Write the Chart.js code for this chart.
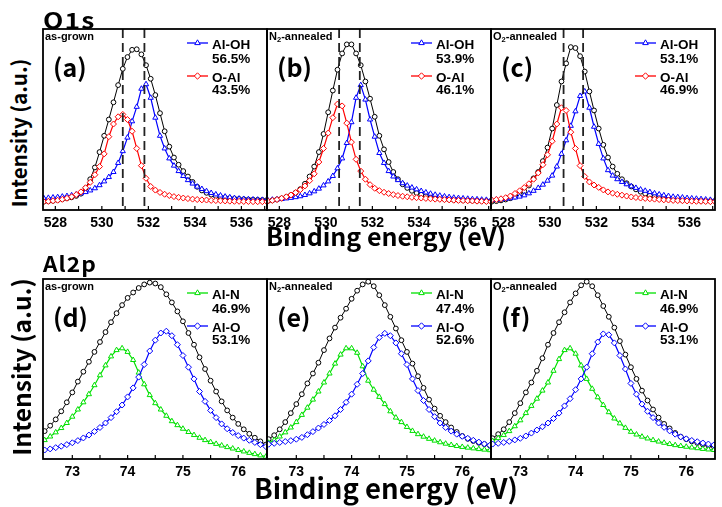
<!DOCTYPE html>
<html>
<head>
<meta charset="utf-8">
<script src="https://cdn.jsdelivr.net/npm/chart.js@4.4.1/dist/chart.umd.min.js"></script>
<style>
  html, body { margin: 0; padding: 0; background: #fff; }
  #fig { position: relative; width: 722px; height: 507px; overflow: hidden; }
  .wrap { position: absolute; }
  .big { position: absolute; font-family: "Noto Sans CJK KR", "Open Sans", sans-serif; font-weight: 700; color: #000; white-space: nowrap; line-height: 1; }
  .small { position: absolute; font-family: "Liberation Sans", Arial, sans-serif; font-weight: 700; font-size: 11px; line-height: 1; white-space: nowrap; color: #000; }
  .small sub { font-size: 7.5px; vertical-align: -2px; line-height: 0; }
</style>
</head>
<body>
<div id="fig"></div>
<script>
// ---- O1s (top row), binding energy in eV ----
const o1sEnergy = [527.5,527.7,527.9,528.1,528.3,528.5,528.7,528.9,529.1,529.3,529.5,529.7,529.9,530.1,530.3,530.5,530.7,530.9,531.1,531.3,531.5,531.7,531.9,532.1,532.3,532.5,532.7,532.9,533.1,533.3,533.5,533.7,533.9,534.1,534.3,534.5,534.7,534.9,535.1,535.3,535.5,535.7,535.9,536.1,536.3,536.5,536.7,536.9,537.1];
const o1sTicks = [528, 529, 530, 531, 532, 533, 534, 535, 536, 537];
const o1sTickLabels = [528, 530, 532, 534, 536];

const o1sTotalA = [4.6,4.8,5.1,5.5,6.0,6.5,7.0,7.8,9.0,12,17,23.5,32,41,50,59.5,69,78,84.5,88.5,88.8,86,80,72.5,63.5,53.5,43.5,35,29,25,21.5,18.5,15.5,12.8,10.8,9.5,8.5,7.7,7.2,6.8,6.5,6.3,6.1,5.9,5.8,5.7,5.6,5.5,5.5];
const alOhA = [6.6,6.7,6.9,7.1,7.4,7.7,8.1,8.6,9.2,9.9,10.8,12,13.7,15.8,18.2,21,26,32.5,40,49,57,67,69.5,62,51,41,34,28.5,24.5,21.5,18.8,16.5,14.6,12.9,11.6,10.4,9.4,8.6,8,7.4,7,6.6,6.3,6.1,5.9,5.8,5.7,5.6,5.5];
const oAlA = [4.6,4.8,5.1,5.4,5.9,6.5,7.3,8.5,10,12.3,15.3,19.5,24,31,40.5,47.5,51.5,52.8,50,43.5,34,24.5,17.5,13,11,9.7,8.7,8,7.4,7,6.6,6.3,6,5.8,5.6,5.5,5.3,5.2,5.1,5,4.9,4.8,4.8,4.7,4.7,4.6,4.6,4.6,4.5];

const o1sTotalB = [4.9,5.3,5.8,6.4,7.2,8.2,9.6,11.5,14.5,18.5,24,32,42,54,66,77.5,86.5,91.5,91.5,86.5,80,71,61.5,51.5,41,33.5,26.5,21,17,14.2,12.2,10.6,9.4,8.4,7.6,7,6.6,6.3,6.0,5.8,5.6,5.5,5.4,5.3,5.2,5.1,5.1,5.0,5.0];
const alOhB = [5.5,5.7,5.9,6.1,6.4,6.7,7.1,7.6,8.3,9.2,10.3,11.8,13.6,15.8,18.8,23,28.5,37,48.5,62,69,61,50,40.5,31.5,26,21.5,18.5,16.5,14.8,13.5,12.4,11.4,10.5,9.7,9.0,8.4,7.9,7.5,7.1,6.8,6.6,6.4,6.2,6.0,5.9,5.7,5.6,5.5];
const oAlB = [5,5.3,5.8,6.5,7.3,8.3,9.6,11.2,13.3,16.2,20,26.5,34,42.5,51,58.5,57.5,48,37.5,28,21.5,17,14,12,10.7,9.8,9.1,8.5,8,7.6,7.3,7,6.8,6.6,6.4,6.2,6,5.9,5.7,5.6,5.4,5.3,5.2,5.1,5,4.9,4.8,4.7,4.6];

const o1sTotalC = [4.6,4.9,5.3,5.8,6.5,7.4,8.6,10.3,13.5,17.5,21,27,34.5,45,58,71,81,90,89.5,85,76.5,65.5,55,45,36,29,24,20,17,14.8,13,11.4,10.1,9,8,7.3,6.8,6.4,6.1,5.9,5.7,5.5,5.4,5.3,5.2,5.1,5.1,5.0,5.0];
const alOhC = [5.5,5.7,5.9,6.2,6.5,6.9,7.4,8.1,9.2,10.6,12.2,14,16.2,19,24,31,38.5,46.5,54.5,63,65.5,56.5,46,36.5,28.5,22,19,17,15.5,14.2,13.1,12.2,11.3,10.6,9.9,9.2,8.6,8.1,7.7,7.3,7.1,6.9,6.6,6.4,6.2,6.0,5.8,5.6,5.5];
const oAlC = [5.5,5.8,6.2,6.8,7.7,9.1,10.6,12.4,14.5,17,20.5,25,30.5,38,47.5,56.5,55,43,34,24.5,18.5,15.5,13.8,12.5,11.1,10,9.3,8.7,8.2,7.7,7.2,6.9,6.6,6.4,6.2,6,5.8,5.6,5.5,5.3,5.2,5.1,5,4.9,4.8,4.8,4.7,4.6,4.6];

// dashed lines at the two fitted O1s peak positions
const o1sPeakLines = [[530.9, 531.83], [530.57, 531.46], [530.59, 531.43]];
const alOhPct = ['56.5%', '53.9%', '53.1%'];
const oAlPct = ['43.5%', '46.1%', '46.9%'];

// ---- Al2p (bottom row) ----
const al2pEnergy = [72.5,72.6,72.7,72.8,72.9,73.0,73.1,73.2,73.3,73.4,73.5,73.6,73.7,73.8,73.9,74.0,74.1,74.2,74.3,74.4,74.5,74.6,74.7,74.8,74.9,75.0,75.1,75.2,75.3,75.4,75.5,75.6,75.7,75.8,75.9,76.0,76.1,76.2,76.3,76.4,76.5];
const al2pTicks = [73, 73.5, 74, 74.5, 75, 75.5, 76];
const al2pTickLabels = [73, 74, 75, 76];

const al2pTotalD = [15.5,18.5,22,26.5,31.5,37,43,48.5,54,59.5,65,70.5,76,81,85.5,89.5,92.5,95,97,98,97.5,95.5,91.5,87,82,76.5,70,63.5,56.5,50,43.5,37.5,32,27,23,19.5,16.5,14,11.8,9.8,8];
const alND = [10.5,12.5,14.8,17.2,20,23.5,27.5,31.5,36,41,46.5,52,57,60.5,61.5,59.5,55,48,41.5,35.5,31,27.5,24,21,18.8,16.8,15,13.3,11.8,10.5,9.4,8.4,7.5,6.6,5.8,5,4.2,3.4,2.7,2,1.3];
const alOD = [5,5.6,6.3,7.1,8,9,10.2,11.7,13.3,15.3,17.5,20,23,26.3,30,34.5,39.5,45.5,52.5,60,66,70,71,68.5,63.5,57.5,51,44.5,37.5,32,27,23,19.5,16.8,14.7,13,11.6,10.4,9.2,8,6.9];

const al2pTotalE = [11,13.2,16.5,20.5,25.5,30.5,36,42,47.5,53.5,60.5,67,73,78.5,83.5,89,93.5,97,98.5,96,91,85.5,79,72.5,66,59.5,53,46,39.5,33,28,24,20.5,17.5,15,12.8,11.2,10,9,8.2,7.5];
const alNE = [9,10.5,12.5,14.8,17.5,20.5,24.5,28.5,33,37.5,42.5,47.5,53,58,61.5,61.5,59,51.5,43.5,38.5,34.5,30.5,26.5,23,20.5,17.8,15.6,13.8,12.4,11.2,10.2,9.3,8.5,7.8,7.2,6.7,6.3,5.9,5.5,5.2,4.9];
const alOE = [8.2,8.7,9.2,9.7,10.2,11,12,13.5,15.2,17.2,19.2,21.4,24,27.5,31.5,36,41.5,47.5,54.5,62,67.5,69.8,68.5,64.5,58.5,52.5,44.5,38,32.5,27.5,23.5,20,17.5,15.5,13.8,12.6,11.5,10.4,9.4,8.4,7.6];

const al2pTotalF = [11.5,13.8,16.5,20.5,25.5,31,37,42.5,49,56,63.5,70,76,81.5,87,92,96.5,98.5,96,91,85,79,73,65.5,58,51,44.5,38,32.5,27.5,23,19.5,17,14.5,12.4,11,9.8,8.9,8.1,7.4,6.8];
const alNF = [10,11.6,13.3,15.5,18.2,21.5,25.5,29.5,33.5,38,42.5,49,55.5,60.5,61.5,58.5,52,44.5,39,34.3,30,26,22.5,19.8,17.3,15.1,13.6,12.4,11.4,10.5,9.7,9,8.3,7.7,7.2,6.8,6.4,6,5.6,5.3,5];
const alOF = [8.3,8.7,9.2,9.8,10.6,11.5,12.8,14.4,16.1,17.9,20,22.5,25.5,29.5,33.5,38.5,44.5,51,58.5,65,69.5,69,64.5,57.5,50,42,36,30.5,26.5,23,20,17.6,15.6,13.8,12.3,11.2,10.3,9.6,8.9,8.3,7.8];

const alNPct = ['46.9%', '47.4%', '46.9%'];
const alOPct = ['53.1%', '52.6%', '53.1%'];

const sampleNames = ['as-grown', 'N<sub>2</sub>-annealed', 'O<sub>2</sub>-annealed'];

// ---- layout ----
const colLeft = [43, 267, 491];
const colWidth = 224;
const PAD = 6, AXIS_H = 28;

const rows = [
  {
    top: 29, height: 181, min: 527.47, max: 537.1,
    energy: o1sEnergy, ticks: o1sTicks, labels: o1sTickLabels,
    total: [o1sTotalA, o1sTotalB, o1sTotalC],
    comp1: [alOhA, alOhB, alOhC], comp2: [oAlA, oAlB, oAlC],
    names: ['Al-OH', 'O-Al'], pct1: alOhPct, pct2: oAlPct,
    colors: ['#0000ff', '#ff0000'], shapes: ['triangle', 'rectRot'],
    dashes: o1sPeakLines, letters: ['(a)', '(b)', '(c)']
  },
  {
    top: 279, height: 180, min: 72.47, max: 76.52,
    energy: al2pEnergy, ticks: al2pTicks, labels: al2pTickLabels,
    total: [al2pTotalD, al2pTotalE, al2pTotalF],
    comp1: [alND, alNE, alNF], comp2: [alOD, alOE, alOF],
    names: ['Al-N', 'Al-O'], pct1: alNPct, pct2: alOPct,
    colors: ['#00e000', '#0000ff'], shapes: ['triangle', 'rectRot'],
    dashes: null, letters: ['(d)', '(e)', '(f)']
  }
];

const fig = document.getElementById('fig');

function series(energy, values) {
  return energy.map((e, i) => ({ x: e, y: values[i] }));
}

function marker(ctx, style, r, x, y) {
  if (Chart.helpers && Chart.helpers.drawPoint) {
    Chart.helpers.drawPoint(ctx, { pointStyle: style, radius: r, borderWidth: 1, rotation: 0 }, x, y);
  } else {
    ctx.beginPath(); ctx.arc(x, y, r, 0, Math.PI * 2); ctx.fill(); ctx.stroke();
  }
}

const panelFrame = {
  id: 'panelFrame',
  afterDatasetsDraw(chart, args, opts) {
    const ctx = chart.ctx, a = chart.chartArea, x = chart.scales.x;
    ctx.save();
    if (opts.dashes) {
      ctx.setLineDash([9, 5]);
      ctx.lineWidth = 1.8;
      ctx.strokeStyle = '#222';
      opts.dashes.forEach(v => {
        const px = x.getPixelForValue(v);
        ctx.beginPath(); ctx.moveTo(px, a.top); ctx.lineTo(px, a.bottom); ctx.stroke();
      });
      ctx.setLineDash([]);
    }
    // inward ticks
    ctx.strokeStyle = '#000';
    ctx.lineWidth = 1.2;
    x.ticks.forEach(t => {
      const px = x.getPixelForValue(t.value);
      ctx.beginPath(); ctx.moveTo(px, a.bottom); ctx.lineTo(px, a.bottom - 4); ctx.stroke();
    });
    ctx.lineWidth = 1.8;
    ctx.strokeRect(a.left, a.top, a.right - a.left, a.bottom - a.top);

    // legend (two components)
    const lineY = [14, 47], nameY = [19.5, 52.5], pctY = [33.5, 65];
    const x0 = a.left + 144;
    ctx.font = 'bold 13.5px "Liberation Sans", Arial, sans-serif';
    ctx.textBaseline = 'alphabetic';
    ctx.textAlign = 'left';
    for (let k = 0; k < 2; k++) {
      const ds = chart.data.datasets[k + 1];
      ctx.strokeStyle = ds.borderColor;
      ctx.lineWidth = 1.3;
      ctx.beginPath(); ctx.moveTo(x0, a.top + lineY[k]); ctx.lineTo(x0 + 21, a.top + lineY[k]); ctx.stroke();
      ctx.fillStyle = '#fff';
      ctx.lineWidth = 1;
      marker(ctx, ds.pointStyle, 3.2, x0 + 10.5, a.top + lineY[k]);
      ctx.fillStyle = '#000';
      ctx.fillText(opts.legend[k][0], x0 + 25, a.top + nameY[k]);
      ctx.fillText(opts.legend[k][1], x0 + 25, a.top + pctY[k]);
    }
    ctx.restore();
  }
};

rows.forEach(row => {
  for (let p = 0; p < 3; p++) {
    const left = colLeft[p];
    const wrap = document.createElement('div');
    wrap.className = 'wrap';
    wrap.style.left = (left - PAD) + 'px';
    wrap.style.top = (row.top - PAD) + 'px';
    const canvas = document.createElement('canvas');
    canvas.width = colWidth + 2 * PAD;
    canvas.height = row.height + PAD + AXIS_H;
    wrap.appendChild(canvas);
    fig.appendChild(wrap);

    new Chart(canvas, {
      type: 'line',
      data: {
        datasets: [
          { data: series(row.energy, row.total[p]), borderColor: '#000', borderWidth: 1,
            pointStyle: 'circle', pointRadius: 2.4, pointBorderWidth: 1,
            pointBorderColor: '#000', pointBackgroundColor: '#fff', order: 3 },
          { data: series(row.energy, row.comp1[p]), borderColor: row.colors[0], borderWidth: 1.2,
            pointStyle: row.shapes[0], pointRadius: 3, pointBorderWidth: 1,
            pointBorderColor: row.colors[0], pointBackgroundColor: '#fff', order: 2 },
          { data: series(row.energy, row.comp2[p]), borderColor: row.colors[1], borderWidth: 1.2,
            pointStyle: row.shapes[1], pointRadius: 3, pointBorderWidth: 1,
            pointBorderColor: row.colors[1], pointBackgroundColor: '#fff', order: 1 }
        ]
      },
      options: {
        responsive: false,
        animation: false,
        devicePixelRatio: 1,
        events: [],
        layout: { padding: { left: PAD, right: PAD, top: PAD, bottom: 0 } },
        scales: {
          x: {
            type: 'linear', min: row.min, max: row.max,
            grid: { display: false, drawTicks: false },
            border: { display: false },
            afterBuildTicks: s => { s.ticks = row.ticks.map(v => ({ value: v })); },
            afterFit: s => { s.height = AXIS_H; },
            ticks: {
              autoSkip: false, maxRotation: 0, padding: 5, color: '#000',
              font: { family: 'Liberation Sans', size: 14, weight: 'bold' },
              callback: v => row.labels.includes(v) ? String(v) : ''
            }
          },
          y: { display: false, min: 0, max: 100 }
        },
        plugins: {
          legend: { display: false },
          tooltip: { enabled: false },
          panelFrame: {
            dashes: row.dashes ? row.dashes[p] : null,
            legend: [[row.names[0], row.pct1[p]], [row.names[1], row.pct2[p]]]
          }
        }
      },
      plugins: [panelFrame]
    });

    const sample = document.createElement('div');
    sample.className = 'small';
    sample.style.left = (left + 2) + 'px';
    sample.style.top = (row.top + 1.5) + 'px';
    sample.innerHTML = sampleNames[p];
    fig.appendChild(sample);

    const letter = document.createElement('div');
    letter.className = 'big';
    letter.style.fontSize = '25px';
    letter.style.left = (left + 10) + 'px';
    letter.style.top = (row.top + 24.5) + 'px';
    letter.textContent = row.letters[p];
    fig.appendChild(letter);
  }
});

function bigText(text, size, css) {
  const d = document.createElement('div');
  d.className = 'big';
  d.style.fontSize = size + 'px';
  Object.assign(d.style, css);
  d.textContent = text;
  fig.appendChild(d);
}

bigText('O1s', 22, { left: '43px', top: '8px', letterSpacing: '1px', transform: 'scaleX(1.2)', transformOrigin: 'left top' });
bigText('Al2p', 21, { left: '43px', top: '253px', letterSpacing: '1px', transform: 'scaleX(1.08)', transformOrigin: 'left top' });
bigText('Binding energy (eV)', 25, { left: '386px', top: '222.5px', transform: 'translateX(-50%)' });
bigText('Binding energy (eV)', 27.5, { left: '386px', top: '474px', transform: 'translateX(-50%)' });
bigText('Intensity (a.u.)', 20.5, { left: '17.8px', top: '132.5px', transform: 'translate(-50%,-50%) rotate(-90deg)' });
bigText('Intensity (a.u.)', 24.5, { left: '20.7px', top: '366.7px', transform: 'translate(-50%,-50%) rotate(-90deg)' });
</script>
</body>
</html>
